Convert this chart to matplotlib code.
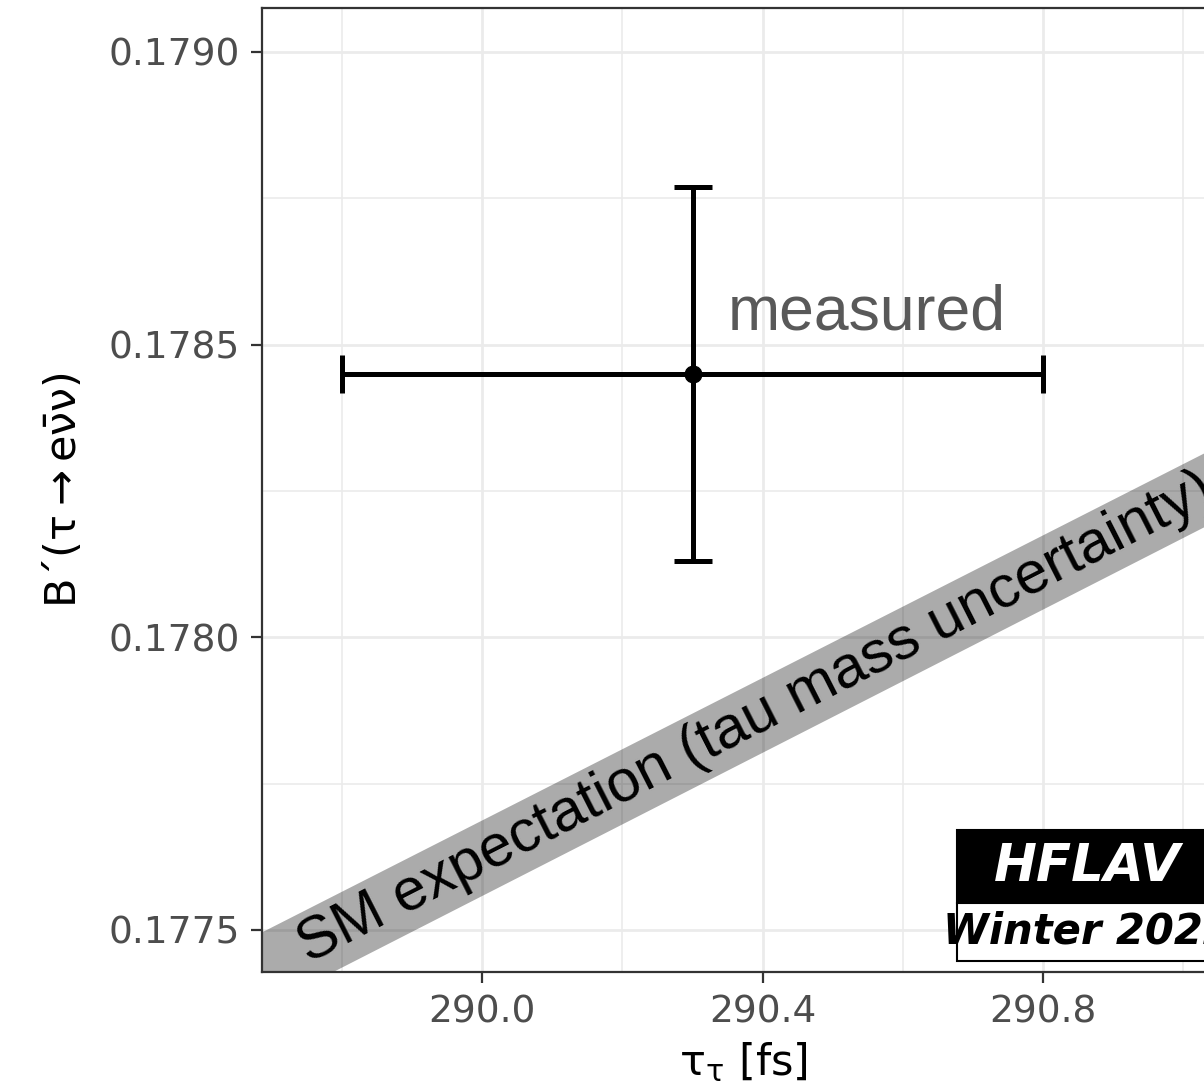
import numpy as np
import matplotlib
matplotlib.use('Agg')
import matplotlib.pyplot as plt
from matplotlib.patches import Rectangle
from matplotlib.ticker import MultipleLocator, FormatStrFormatter

plt.rcParams['font.family'] = ['DejaVu Sans']
plt.rcParams['mathtext.fontset'] = 'dejavusans'
plt.rcParams['mathtext.default'] = 'regular'

# measured tau lifetime and B(tau -> e nu nu)
meas_tau = [290.30]
meas_tau_err = [0.50]
meas_br = [0.17845]
meas_br_err = [0.00032]

sm_tau = [289.65, 291.10]
sm_low = [0.177345, 0.178232]
sm_high = [0.177475, 0.178358]

xlim = (289.686, 291.058)
ylim = (0.177428, 0.179075)

fig = plt.figure(figsize=(12.04, 10.89), dpi=100)
ax = fig.add_axes([262/1204, 117/1089, 962/1204, 964/1089])
ax.set_xlim(xlim)
ax.set_ylim(ylim)

# grid like ggplot theme_bw
ax.xaxis.set_major_locator(MultipleLocator(0.4))
ax.xaxis.set_minor_locator(MultipleLocator(0.2))
ax.yaxis.set_major_locator(MultipleLocator(0.0005))
ax.yaxis.set_minor_locator(MultipleLocator(0.00025))
ax.yaxis.set_major_formatter(FormatStrFormatter('%.4f'))
ax.xaxis.set_major_formatter(FormatStrFormatter('%.1f'))
ax.grid(which='major', color='#EBEBEB', lw=2.0, zorder=0)
ax.grid(which='minor', color='#EBEBEB', lw=1.2, zorder=0)
ax.set_axisbelow(True)
ax.tick_params(which='minor', length=0)
ax.tick_params(which='major', length=8, width=1.6, color='#333333',
               labelsize=27, labelcolor='#4D4D4D', pad=8)
for sp in ax.spines.values():
    sp.set_color('#333333')
    sp.set_linewidth(1.6)

# SM band
ax.fill_between(sm_tau, sm_low, sm_high, color='black', alpha=0.33, lw=0, zorder=2)

# measurement
ax.errorbar(meas_tau, meas_br, xerr=meas_tau_err, yerr=meas_br_err, fmt='o',
            color='black', ms=12, elinewidth=3.6, capsize=14, capthick=3.6, zorder=4)

ax.text(290.351, 0.178526, 'measured', fontsize=45, color='#595959',
        family=['Liberation Sans', 'DejaVu Sans'], ha='left', va='baseline')

# text along the band
mid = [(lo + hi) / 2 for lo, hi in zip(sm_low, sm_high)]
p0 = ax.transData.transform((sm_tau[0], mid[0]))
p1 = ax.transData.transform((sm_tau[1], mid[1]))
angle = np.degrees(np.arctan2(p1[1] - p0[1], p1[0] - p0[0]))
tx = 290.39
ty = np.interp(tx, sm_tau, mid)
ax.text(tx, ty, 'SM expectation (tau mass uncertainty)', fontsize=43, color='black',
        family=['Liberation Sans', 'DejaVu Sans'], rotation=angle,
        rotation_mode='anchor', ha='center', va='center', zorder=3)

# axis titles
ax.set_xlabel(r'$\tau_{\tau}$ [fs]', fontsize=31, color='black')
ax.set_ylabel(r'B´($\tau \rightarrow e\bar{\nu}\nu$)', fontsize=31, color='black')
ax.xaxis.set_label_coords(0.5, -0.0934)
ax.xaxis.label.set_va('center')
ax.yaxis.set_label_coords(-0.206, 0.5)
ax.yaxis.label.set_va('center')

# HFLAV logo
ax.add_patch(Rectangle((0.7225, 0.0716), 0.27, 0.0757, transform=ax.transAxes,
                       facecolor='black', edgecolor='black', lw=1.5, zorder=5, clip_on=False))
ax.add_patch(Rectangle((0.7225, 0.0114), 0.27, 0.0602, transform=ax.transAxes,
                       facecolor='white', edgecolor='black', lw=1.5, zorder=5, clip_on=False))
ax.text(0.8576, 0.1094, 'HFLAV', transform=ax.transAxes, fontsize=37, color='white',
        fontweight='bold', fontstyle='italic', ha='center', va='center', zorder=6)
ax.text(0.8576, 0.0415, 'Winter 2022', transform=ax.transAxes, fontsize=30, color='black',
        fontweight='bold', fontstyle='italic', ha='center', va='center', zorder=6)

fig.savefig('out.png', dpi=100)
